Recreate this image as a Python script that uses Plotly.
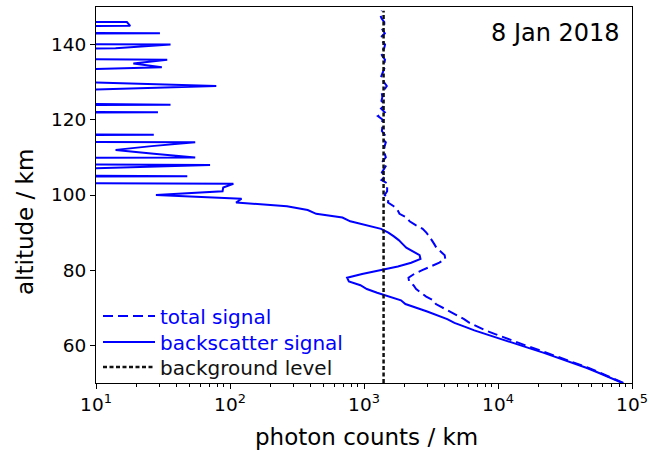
import numpy as np
import plotly.graph_objects as go

# ---------------- data ----------------
altitude_km = list(range(50, 150))  # 50 ... 149 km, 1 km steps

# backscatter photon counts / km (negative = below background, drawn off-axis)
backscatter_signal = [
    84900, 73600, 63100, 54000, 46100, 38600, 32200, 26800, 22000, 18000,   # 50-59
    14700, 12000, 9880, 8130, 6660, 5625, 4730, 4180, 3567, 2962,           # 60-69
    2455, 2037, 1888, 1510, 1253, 1050, 940, 771, 748, 968,                 # 70-79
    1320, 1790, 2250, 2640, 2600, 2330, 2067, 1937, 1816, 1671,             # 80-89
    1520, 1340, 1030, 790, 690, 440, 380, 266, 111, 122,                    # 90-99
    28, 88, 89, 106, -50, 48, -40, 8, 71, -20,                              # 100-109
    55, 27, 14, 26, 55, -30, 27, -40, -30, -60,                             # 110-119
    -20, -130, 29, -60, 36, -50, -30, -40, 9, 79,                           # 120-129
    9, -70, -40, 3, 31, 19, 34, -30, -70, 14,                               # 130-139
    36, -40, -60, 30, -30, 18, 17, -50, -80, -40,                           # 140-149
]

# total photon counts / km
total_signal = [
    86300, 75000, 64500, 55400, 47500, 40000, 33600, 28200, 23400, 19400,   # 50-59
    16100, 13400, 11280, 9530, 8060, 7025, 6130, 5580, 4967, 4362,          # 60-69
    3855, 3437, 3288, 2910, 2653, 2450, 2340, 2171, 2148, 2368,             # 70-79
    2720, 3190, 3650, 4040, 4000, 3730, 3467, 3337, 3216, 3071,             # 80-89
    2920, 2740, 2430, 2190, 2090, 1840, 1780, 1666, 1511, 1522,             # 90-99
    1428, 1488, 1489, 1506, 1350, 1448, 1360, 1408, 1471, 1380,             # 100-109
    1455, 1427, 1414, 1426, 1455, 1370, 1427, 1360, 1370, 1340,             # 110-119
    1380, 1270, 1429, 1340, 1436, 1350, 1370, 1360, 1409, 1479,             # 120-129
    1409, 1330, 1360, 1403, 1431, 1419, 1434, 1370, 1330, 1414,             # 130-139
    1436, 1360, 1340, 1430, 1370, 1418, 1417, 1350, 1320, 1360,             # 140-149
]

background_level = 1400

x_tick_values = [1e1, 1e2, 1e3, 1e4, 1e5]
x_tick_labels = ["10<sup>1</sup>", "10<sup>2</sup>", "10<sup>3</sup>",
                 "10<sup>4</sup>", "10<sup>5</sup>"]
y_tick_values = [60, 80, 100, 120, 140]
y_tick_labels = ["60", "80", "100", "120", "140"]
date_label = "8 Jan 2018"
x_title = "photon counts / km"
y_title = "altitude / km"

# ---------------- figure ----------------
FONT = "DejaVu Sans"
BLUE = "#0000ff"
L, R, T, B = 96, 17, 7, 67
W, H = 649, 450
PW, PH = W - L - R, H - T - B


def px_x(px):
    return (px - L) / PW


def px_y(py):
    return (H - B - py) / PH


# non-positive values cannot be shown on a log axis: clip them far to the left
bs = np.array(backscatter_signal, dtype=float)
bs_plot = np.where(bs > 0, bs, 1e-6)

fig = go.Figure()
fig.add_trace(go.Scatter(
    x=total_signal, y=altitude_km, mode="lines",
    line=dict(color=BLUE, width=2, dash="10px,5px"),
    name='<span style="color:#0000ff">total signal</span>', legend="legend"))
fig.add_trace(go.Scatter(
    x=bs_plot, y=altitude_km, mode="lines",
    line=dict(color=BLUE, width=2),
    name='<span style="color:#0000ff">backscatter signal</span>', legend="legend2"))
fig.add_trace(go.Scatter(
    x=[background_level] * len(altitude_km), y=altitude_km, mode="lines",
    line=dict(color="#111111", width=2.5, dash="4px,2.5px"),
    name='<span style="color:#111111">background level</span>', legend="legend3"))

minor_vals = [m * 10 ** d for d in range(1, 5) for m in range(2, 10)]

legend_common = dict(xanchor="left", yanchor="middle",
                     bgcolor="rgba(0,0,0,0)", borderwidth=0,
                     font=dict(family=FONT, size=20), itemwidth=52)

fig.update_layout(
    width=W, height=H,
    margin=dict(l=L, r=R, t=T, b=B, autoexpand=False),
    paper_bgcolor="white", plot_bgcolor="white",
    font=dict(family=FONT, size=18, color="black"),
    showlegend=True,
    legend=dict(x=px_x(98), y=px_y(316), **legend_common),
    legend2=dict(x=px_x(98), y=px_y(342), **legend_common),
    legend3=dict(x=px_x(98), y=px_y(367), **legend_common),
    xaxis=dict(type="log", range=[1, 5], automargin=False,
               tickvals=x_tick_values, ticktext=x_tick_labels,
               ticks="outside", ticklen=5, tickwidth=1, tickcolor="black",
               showline=True, linecolor="black", linewidth=1, mirror=True,
               showgrid=False, zeroline=False,
               tickfont=dict(family=FONT, size=18.5),
               minor=dict(ticks="outside", ticklen=3, tickwidth=0.8,
                          tickcolor="black", tickvals=minor_vals, showgrid=False)),
    yaxis=dict(range=[50, 150], automargin=False,
               tickvals=y_tick_values, ticktext=y_tick_labels,
               ticks="outside", ticklen=5, tickwidth=1, tickcolor="black",
               showline=True, linecolor="black", linewidth=1, mirror=True,
               showgrid=False, zeroline=False,
               tickfont=dict(family=FONT, size=18.5)),
    annotations=[
        dict(text=date_label, xref="paper", yref="paper",
             x=px_x(622), y=px_y(33), xanchor="right", yanchor="middle",
             showarrow=False, font=dict(family=FONT, size=24, color="black")),
        dict(text=x_title, xref="paper", yref="paper",
             x=px_x(366), y=px_y(437), xanchor="center", yanchor="middle",
             showarrow=False, font=dict(family=FONT, size=23, color="black")),
        dict(text=y_title, xref="paper", yref="paper", textangle=-90,
             x=px_x(25), y=px_y(222), xanchor="center", yanchor="middle",
             showarrow=False, font=dict(family=FONT, size=23, color="black")),
    ],
)

fig.write_html("out.html",
               config={"displayModeBar": False},
               post_script="document.body.style.margin='0';"
                           "document.body.style.overflow='hidden';")
